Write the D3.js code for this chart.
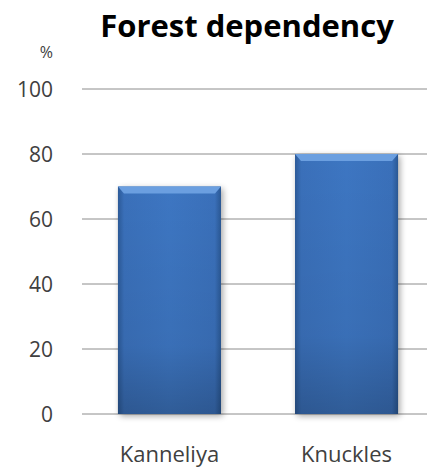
<!DOCTYPE html>
<html>
<head>
<meta charset="utf-8">
<script src="https://cdn.jsdelivr.net/npm/d3@7"></script>
<style>
  body { margin: 0; background: #fff; }
  svg { display: block; font-family: "Open Sans", Lato, sans-serif; }
</style>
</head>
<body>
<svg class="chart" width="427" height="471"></svg>
<script>
// chart data
const categories = ["Kanneliya", "Knuckles"];
const values = [70, 80];
const yTicks = [0, 20, 40, 60, 80, 100];

const svg = d3.select(".chart");
const margin = { top: 89, right: 0, bottom: 57, left: 82 };
const width = +svg.attr("width");
const height = +svg.attr("height");

const y = d3.scaleLinear().domain([0, 100]).range([height - margin.bottom, margin.top]);
const x = d3.scaleBand().domain(categories).range([margin.left, 434]).paddingInner(0.418).paddingOuter(0.203);

// gradients for the bevelled bars
const defs = svg.append("defs");
const hg = defs.append("linearGradient").attr("id", "barH").attr("x1", 0).attr("x2", 1).attr("y1", 0).attr("y2", 0);
hg.append("stop").attr("offset", "0%").attr("stop-color", "#2c5a98");
hg.append("stop").attr("offset", "6%").attr("stop-color", "#3a70ba");
hg.append("stop").attr("offset", "50%").attr("stop-color", "#3d76c2");
hg.append("stop").attr("offset", "94%").attr("stop-color", "#3a70ba");
hg.append("stop").attr("offset", "100%").attr("stop-color", "#2a5894");
const vg = defs.append("linearGradient").attr("id", "barV").attr("x1", 0).attr("x2", 0).attr("y1", 0).attr("y2", 1);
vg.append("stop").attr("offset", "0%").attr("stop-color", "#000").attr("stop-opacity", 0);
vg.append("stop").attr("offset", "70%").attr("stop-color", "#000").attr("stop-opacity", 0.06);
vg.append("stop").attr("offset", "100%").attr("stop-color", "#000").attr("stop-opacity", 0.22);
const blur = defs.append("filter").attr("id", "shadow").attr("x", "-20%").attr("y", "-10%").attr("width", "140%").attr("height", "130%");
blur.append("feGaussianBlur").attr("stdDeviation", 3);

// gridlines
svg.append("g").selectAll("line").data(yTicks).join("line")
  .attr("x1", margin.left).attr("x2", width)
  .attr("y1", d => y(d)).attr("y2", d => y(d))
  .attr("stroke", "#8c8c8c").attr("stroke-width", 1);

// y labels
svg.append("g").selectAll("text").data(yTicks).join("text")
  .attr("x", 53).attr("y", d => y(d)).attr("dy", "0.36em")
  .attr("text-anchor", "end").attr("font-size", 21).attr("fill", "#404040")
  .text(d => d);

svg.append("text").attr("x", 53).attr("y", 58).attr("text-anchor", "end")
  .attr("font-size", 16).attr("fill", "#404040").text("%");

// bars
const bars = svg.append("g").selectAll("g").data(values).join("g");
bars.append("rect")
  .attr("x", (d, i) => x(categories[i]) + 2).attr("y", d => y(d) + 2)
  .attr("width", x.bandwidth()).attr("height", d => y(0) - y(d))
  .attr("fill", "#000").attr("opacity", 0.35).attr("filter", "url(#shadow)");
bars.append("rect")
  .attr("x", (d, i) => x(categories[i])).attr("y", d => y(d))
  .attr("width", x.bandwidth()).attr("height", d => y(0) - y(d))
  .attr("fill", "url(#barH)");
bars.append("rect")
  .attr("x", (d, i) => x(categories[i])).attr("y", d => y(d))
  .attr("width", x.bandwidth()).attr("height", d => y(0) - y(d))
  .attr("fill", "url(#barV)");
// top bevel
bars.append("path")
  .attr("d", (d, i) => {
    const x0 = x(categories[i]), x1 = x0 + x.bandwidth(), t = y(d);
    return `M${x0},${t}L${x1},${t}L${x1 - 6},${t + 7}L${x0 + 6},${t + 7}Z`;
  })
  .attr("fill", "#6b9fe0");

// category labels
svg.append("g").selectAll("text").data(categories).join("text")
  .attr("x", d => x(d) + x.bandwidth() / 2).attr("y", 462)
  .attr("text-anchor", "middle").attr("font-size", 22).attr("fill", "#404040")
  .text(d => d);

// title
svg.append("text").attr("x", 247).attr("y", 37).attr("text-anchor", "middle")
  .attr("font-size", 31).attr("font-weight", "bold").attr("fill", "#000")
  .text("Forest dependency");
</script>
</body>
</html>
